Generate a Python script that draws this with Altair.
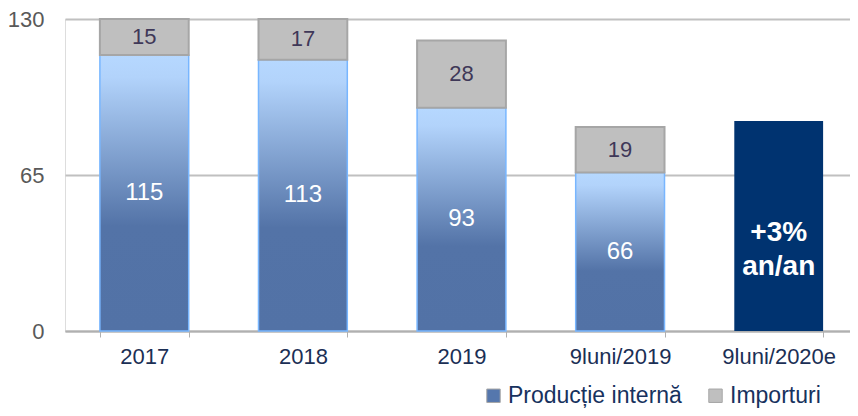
import altair as alt
import pandas as pd

categories = ["2017", "2018", "2019", "9luni/2019", "9luni/2020e"]
productie = [115, 113, 93, 66, None]
importuri = [15, 17, 28, 19, None]
estimare = [None, None, None, None, 87.5]
estimare_label = "+3%\nan/an"

rows = []
for c, p, i, e in zip(categories, productie, importuri, estimare):
    rows.append({
        "cat": c,
        "prod": p,
        "imp": i,
        "total": (p + i) if p is not None else None,
        "est": e,
        "series": "Importuri",
    })
df = pd.DataFrame(rows)

font = "Liberation Sans"

x_enc = alt.X(
    "cat:N",
    sort=categories,
    scale=alt.Scale(paddingInner=0.44, paddingOuter=0.22, range=[0, 793]),
    axis=alt.Axis(
        title=None,
        labelAngle=0,
        labelFontSize=22,
        labelColor="#1b2f55",
        labelFont=font,
        labelPadding=9,
        tickBand="extent",
        tickColor="#b0b0b0",
        tickSize=6,
        domainColor="#b0b0b0",
        domainWidth=2,
        grid=False,
    ),
)

y_scale = alt.Scale(domain=[0, 130], nice=False)
y_axis = alt.Axis(
    title=None,
    values=[0, 65, 130],
    labelFontSize=22,
    labelColor="#595959",
    labelFont=font,
    labelPadding=21,
    domain=False,
    ticks=False,
    grid=True,
    gridColor="#c0c0c0",
    gridWidth=2,
)

gradient = alt.LinearGradient(
    gradient="linear",
    x1=0, y1=0, x2=0, y2=1,
    stops=[
        alt.GradientStop(offset=0, color="#b6d8ff"),
        alt.GradientStop(offset=0.08, color="#b2d3fb"),
        alt.GradientStop(offset=0.62, color="#5373a7"),
        alt.GradientStop(offset=1, color="#5272a6"),
    ],
)

base = alt.Chart(df)

prod_bar = base.transform_filter("datum.prod != null").mark_bar(
    fill=gradient, stroke="#78b6ff", strokeWidth=1.5
).encode(
    x=x_enc,
    y=alt.Y("prod:Q", scale=y_scale, axis=y_axis),
)

imp_bar = base.transform_filter("datum.imp != null").mark_bar(
    stroke="#a6a6a6", strokeWidth=2
).encode(
    x=x_enc,
    y=alt.Y("prod:Q", scale=y_scale, axis=y_axis),
    y2="total:Q",
    color=alt.Color(
        "series:N",
        scale=alt.Scale(
            domain=["Producție internă", "Importuri"],
            range=["#5577ad", "#bfbfbf"],
        ),
        legend=alt.Legend(
            title=None,
            orient="none",
            direction="horizontal",
            legendX=417,
            legendY=365,
            symbolType="square",
            symbolSize=180,
            symbolStrokeColor="#a6a6a6",
            symbolStrokeWidth=1,
            labelFontSize=23,
            labelFont=font,
            labelColor="#17325e",
            labelOffset=3,
            labelLimit=0,
            columnPadding=22,
            symbolOpacity=1,
        ),
    ),
)

est_bar = base.transform_filter("datum.est != null").mark_bar(
    color="#003370"
).encode(
    x=x_enc,
    y=alt.Y("est:Q", scale=y_scale, axis=y_axis),
)

prod_text = base.transform_filter("datum.prod != null").transform_calculate(
    mid="datum.prod / 2"
).mark_text(
    fontSize=24, font=font, color="white"
).encode(
    x=x_enc,
    y=alt.Y("mid:Q", scale=y_scale, axis=y_axis),
    text="prod:Q",
)

imp_text = base.transform_filter("datum.imp != null").transform_calculate(
    mid="datum.prod + datum.imp / 2"
).mark_text(
    fontSize=22, font=font, color="#3f3858"
).encode(
    x=x_enc,
    y=alt.Y("mid:Q", scale=y_scale, axis=y_axis),
    text="imp:Q",
)

est_text = base.transform_filter("datum.est != null").transform_calculate(
    mid="datum.est / 2", lab="split('" + estimare_label.replace("\n", "|") + "', '|')"
).mark_text(
    fontSize=28, font=font, fontWeight="bold", color="white", lineHeight=34, dy=7
).encode(
    x=x_enc,
    y=alt.Y("mid:Q", scale=y_scale, axis=y_axis),
    text="lab:N",
)

chart = alt.layer(prod_bar, imp_bar, est_bar, prod_text, imp_text, est_text).properties(
    width=785,
    height=312,
    padding={"left": 57, "top": 11, "right": 0, "bottom": 77},
    autosize=alt.AutoSizeParams(type="none"),
).configure_view(stroke=None).configure(font=font)

chart.save("out.html", embed_options={"renderer": "svg", "actions": False})
